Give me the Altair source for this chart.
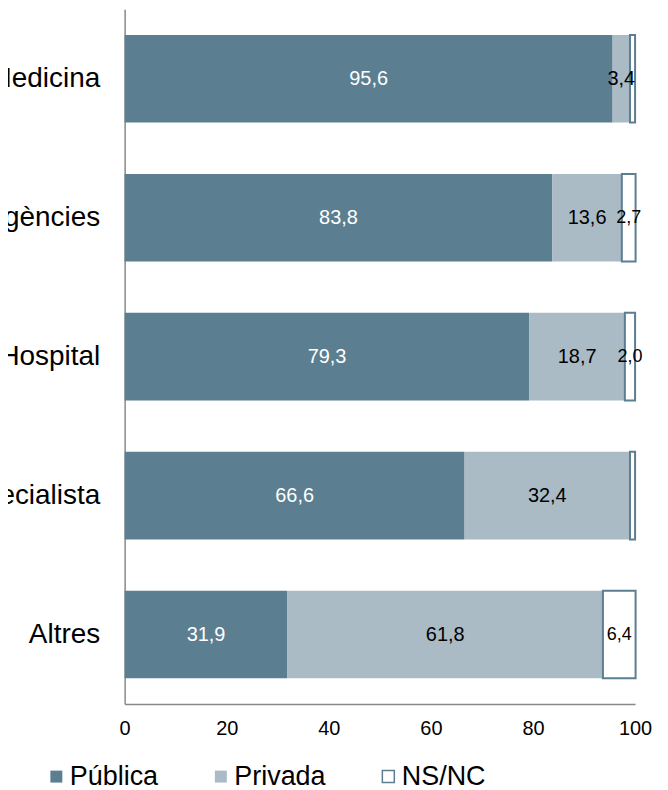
import altair as alt
import pandas as pd

categories = ["Medicina", "Urgències", "Hospital", "Especialista", "Altres"]
series = ["Pública", "Privada", "NS/NC"]
publica = [95.6, 83.8, 79.3, 66.6, 31.9]
privada = [3.4, 13.6, 18.7, 32.4, 61.8]
nsnc = [1.0, 2.7, 2.0, 1.0, 6.4]
x_ticks = [0, 20, 40, 60, 80, 100]
fill_colors = ["#5b7e91", "#aabbc6", "#ffffff"]
stroke_colors = ["transparent", "transparent", "#5b7e91"]

rows = []
for i, cat in enumerate(categories):
    for j, (s, vals) in enumerate(zip(series, [publica, privada, nsnc])):
        rows.append({"cat": cat, "serie": s, "value": vals[i], "ord": j})
df = pd.DataFrame(rows)

FONT = "Liberation Sans, Arial, sans-serif"

xscale = alt.Scale(domain=[0, 100], nice=False)
yenc = alt.Y(
    "cat:N",
    sort=categories,
    scale=alt.Scale(paddingInner=0.37, paddingOuter=0.185),
    axis=alt.Axis(
        title=None, ticks=False, tickSize=0, labelFontSize=28, labelPadding=25,
        labelColor="black", labelFont=FONT, domainColor="#898989", domainWidth=1.5,
        labelLimit=400,
    ),
)

legend_kw = dict(
    orient="none", legendX=-82, legendY=756, direction="horizontal", title=None,
    labelFontSize=27, labelFont=FONT, labelColor="black", symbolType="square",
    symbolSize=144, symbolStrokeWidth=1.5, columnPadding=49, labelOffset=0,
)

base = alt.Chart(df).transform_stack(
    stack="value", groupby=["cat"], as_=["x0", "x1"],
    sort=[alt.SortField("ord", order="ascending")],
)

bars = base.mark_bar(strokeWidth=2).encode(
    x=alt.X(
        "x0:Q", scale=xscale,
        axis=alt.Axis(
            title=None, values=x_ticks, grid=False, ticks=False, tickSize=0,
            labelFontSize=20, labelPadding=15, labelFont=FONT, labelColor="black",
            domainColor="#898989", domainWidth=1.5, labelFlush=False,
        ),
    ),
    x2="x1:Q",
    y=yenc,
    fill=alt.Fill("serie:N", sort=series,
                  scale=alt.Scale(domain=series, range=fill_colors),
                  legend=alt.Legend(**legend_kw)),
    stroke=alt.Stroke("serie:N", sort=series,
                      scale=alt.Scale(domain=series, range=stroke_colors),
                      legend=alt.Legend(**legend_kw)),
)

text = base.transform_filter("datum.value >= 1.5").transform_calculate(
    mid="(datum.x0 + datum.x1) / 2",
    lab="replace(format(datum.value, '.1f'), '.', ',')",
).mark_text(font=FONT, baseline="middle", align="center").encode(
    x=alt.X("mid:Q", scale=xscale),
    y=alt.Y("cat:N", sort=categories),
    text="lab:N",
    color=alt.condition("datum.serie == 'Pública'", alt.value("white"), alt.value("black")),
    size=alt.condition("datum.serie == 'NS/NC'", alt.value(18), alt.value(20)),
)

chart = alt.layer(bars, text).properties(
    width=512, height=697,
    padding={"left": 117, "top": 0, "right": 25, "bottom": 85},
    autosize=alt.AutoSizeParams(type="none"),
).configure_view(stroke=None)

chart.save("out.html", embed_options={"renderer": "svg", "actions": False})
